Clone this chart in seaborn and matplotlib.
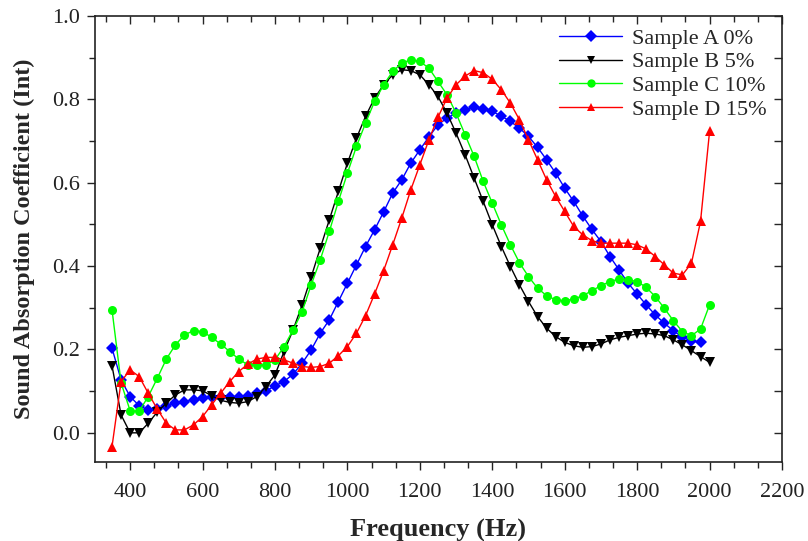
import numpy as np
import pandas as pd
import matplotlib
matplotlib.use("Agg")
import matplotlib.pyplot as plt
import seaborn as sns
from matplotlib.ticker import MultipleLocator, AutoMinorLocator

# ==========================================
# DATA
# ==========================================
freq_ad = list(range(350, 2001, 25))   # B, C, D: 350..2000 Hz
freq_a = list(range(350, 1976, 25))    # A stops at 1975 Hz

sample_a = [0.203, 0.127, 0.087, 0.065, 0.055, 0.057, 0.065, 0.071, 0.075, 0.079,
            0.083, 0.085, 0.087, 0.087, 0.087, 0.088, 0.095, 0.100, 0.113, 0.123,
            0.141, 0.167, 0.199, 0.239, 0.271, 0.315, 0.359, 0.403, 0.447, 0.487,
            0.530, 0.575, 0.607, 0.647, 0.679, 0.710, 0.739, 0.755, 0.767, 0.775,
            0.781, 0.778, 0.771, 0.760, 0.747, 0.731, 0.711, 0.685, 0.655, 0.623,
            0.587, 0.555, 0.520, 0.488, 0.459, 0.423, 0.391, 0.359, 0.333, 0.307,
            0.283, 0.263, 0.245, 0.229, 0.221, 0.217]

sample_b = [0.161, 0.043, 0.000, 0.000, 0.023, 0.050, 0.071, 0.091, 0.103, 0.103,
            0.101, 0.089, 0.078, 0.073, 0.071, 0.075, 0.087, 0.111, 0.139, 0.195,
            0.247, 0.307, 0.374, 0.443, 0.511, 0.579, 0.647, 0.707, 0.759, 0.803,
            0.835, 0.859, 0.871, 0.869, 0.859, 0.835, 0.807, 0.767, 0.719, 0.667,
            0.611, 0.555, 0.499, 0.447, 0.399, 0.355, 0.315, 0.279, 0.251, 0.231,
            0.217, 0.209, 0.205, 0.207, 0.213, 0.223, 0.229, 0.233, 0.237, 0.239,
            0.237, 0.233, 0.223, 0.211, 0.197, 0.183, 0.169]

sample_c = [0.295, 0.120, 0.053, 0.052, 0.087, 0.131, 0.177, 0.211, 0.235, 0.245,
            0.243, 0.229, 0.213, 0.195, 0.177, 0.163, 0.163, 0.163, 0.175, 0.207,
            0.247, 0.291, 0.355, 0.415, 0.483, 0.555, 0.623, 0.687, 0.743, 0.795,
            0.835, 0.867, 0.887, 0.895, 0.891, 0.875, 0.843, 0.811, 0.767, 0.715,
            0.663, 0.603, 0.551, 0.499, 0.451, 0.408, 0.375, 0.347, 0.329, 0.319,
            0.317, 0.321, 0.329, 0.341, 0.353, 0.363, 0.369, 0.367, 0.363, 0.349,
            0.327, 0.299, 0.269, 0.243, 0.233, 0.249, 0.307]

sample_d = [-0.033, 0.123, 0.151, 0.135, 0.095, 0.057, 0.023, 0.007, 0.007, 0.019,
            0.039, 0.067, 0.095, 0.123, 0.147, 0.165, 0.177, 0.181, 0.181, 0.175,
            0.167, 0.159, 0.157, 0.159, 0.167, 0.185, 0.207, 0.239, 0.281, 0.333,
            0.389, 0.451, 0.515, 0.583, 0.643, 0.703, 0.757, 0.803, 0.835, 0.856,
            0.869, 0.864, 0.848, 0.823, 0.791, 0.751, 0.703, 0.655, 0.607, 0.567,
            0.531, 0.495, 0.475, 0.461, 0.455, 0.455, 0.455, 0.455, 0.451, 0.441,
            0.423, 0.403, 0.383, 0.379, 0.407, 0.507, 0.723]

labels = ["Sample A 0%", "Sample B 5%", "Sample C 10%", "Sample D 15%"]
colors = ["#0000FF", "#000000", "#00FF00", "#FF0000"]
markers = ["D", "v", "o", "^"]

df = pd.concat([
    pd.DataFrame({"Frequency": freq_a, "Alpha": sample_a, "Sample": labels[0]}),
    pd.DataFrame({"Frequency": freq_ad, "Alpha": sample_b, "Sample": labels[1]}),
    pd.DataFrame({"Frequency": freq_ad, "Alpha": sample_c, "Sample": labels[2]}),
    pd.DataFrame({"Frequency": freq_ad, "Alpha": sample_d, "Sample": labels[3]}),
], ignore_index=True)

# ==========================================
# PLOT
# ==========================================
sns.set_style("white")
plt.rcParams['font.family'] = ['Liberation Serif', 'DejaVu Serif']

fig = plt.figure(figsize=(8.08, 5.41), dpi=100)
ax = fig.add_axes([95 / 808, 79 / 541, 687 / 808, 446 / 541])

sns.lineplot(data=df, x="Frequency", y="Alpha", hue="Sample", style="Sample",
             palette=colors, markers=markers, dashes=False, linewidth=1.0,
             markersize=6.5, markeredgewidth=0, ax=ax)

ax.set_xlim(303, 2200)
ax.set_ylim(-0.07, 1.0)
ax.xaxis.set_major_locator(MultipleLocator(200))
ax.xaxis.set_minor_locator(AutoMinorLocator(3))
ax.yaxis.set_major_locator(MultipleLocator(0.2))
ax.yaxis.set_minor_locator(MultipleLocator(0.1))
ax.yaxis.set_major_formatter(matplotlib.ticker.FormatStrFormatter('%.1f'))
ax.xaxis.set_major_formatter(matplotlib.ticker.FormatStrFormatter('%d'))

for side in ['left', 'right', 'top', 'bottom']:
    ax.spines[side].set_visible(True)
    ax.spines[side].set_color('#222222')
    ax.spines[side].set_linewidth(1.2)

# outward ticks on left/bottom
ax.tick_params(axis='both', which='major', direction='out', length=6, width=1,
               colors='#222222')
ax.tick_params(axis='both', which='minor', direction='out', length=4, width=1,
               colors='#222222')
ax.tick_params(axis='x', labelsize=16, pad=9)
ax.tick_params(axis='y', labelsize=16, pad=5)
ax.tick_params(axis='both', which='both', bottom=True, left=True)

# inward ticks on top/right
top = ax.secondary_xaxis('top')
top.xaxis.set_major_locator(MultipleLocator(200))
top.xaxis.set_minor_locator(AutoMinorLocator(3))
top.tick_params(which='major', direction='in', length=6, width=1, labeltop=False)
top.tick_params(which='minor', direction='in', length=4, width=1)
top.spines['top'].set_visible(False)
right = ax.secondary_yaxis('right')
right.yaxis.set_major_locator(MultipleLocator(0.1))
right.tick_params(which='major', direction='in', length=6, width=1, labelright=False)
right.spines['right'].set_visible(False)

ax.set_xlabel("Frequency (Hz)", fontsize=19, fontweight='bold', labelpad=12)
ax.set_ylabel("Sound Absorption Coefficient (Int)", fontsize=17.5, fontweight='bold', labelpad=12)

leg = ax.legend(loc='upper right', bbox_to_anchor=(0.995, 1.0), frameon=False,
                fontsize=16, handlelength=2.8, labelspacing=0.14, handletextpad=0.45,
                borderaxespad=0.15)
for h in leg.legend_handles:
    h.set_markersize(6)

fig.savefig("out.png", dpi=100)
